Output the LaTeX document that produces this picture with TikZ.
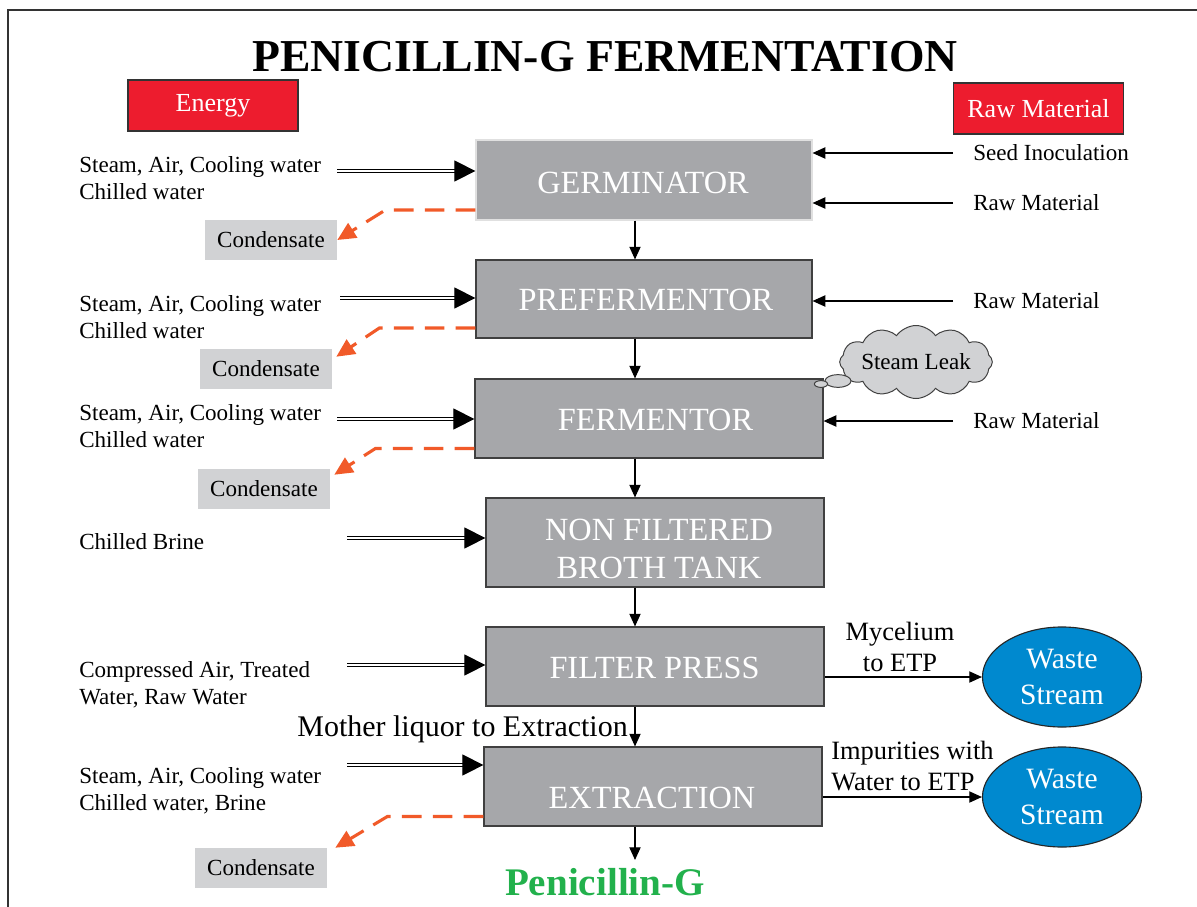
\documentclass[tikz,border=0pt]{standalone}
\usepackage{fontspec}
\setmainfont{Liberation Serif}
\usetikzlibrary{arrows.meta,shapes.geometric,shapes.symbols,shadows,calc}
\definecolor{procgray}{HTML}{A6A7AA}
\definecolor{condgray}{HTML}{D1D2D4}
\definecolor{energyred}{HTML}{ED1C2E}
\definecolor{leakorange}{HTML}{F15A29}
\definecolor{wasteblue}{HTML}{0089CF}
\definecolor{pengreen}{HTML}{22B14C}

\begin{document}
\begin{tikzpicture}[x=0.025cm, y=-0.025cm,
	proc/.style={rectangle, fill=procgray, draw=black!75, line width=0.8pt, inner sep=0pt,
		general shadow={fill=black!80, shadow xshift=1pt, shadow yshift=-1pt}},
	proctxt/.style={text=white, align=center, inner sep=0pt, font=\fontsize{23}{27}\selectfont},
	redbox/.style={rectangle, fill=energyred, draw=black!80, line width=0.8pt, text=white,
		font=\fontsize{18.5}{22}\selectfont, minimum width=4.25cm, minimum height=1.275cm},
	condbox/.style={rectangle, fill=condgray, font=\fontsize{16.4}{19}\selectfont,
		minimum width=3.3cm, minimum height=1cm},
	side/.style={anchor=west, align=left, inner sep=0pt, font=\fontsize{16.4}{19.3}\selectfont},
	rawlbl/.style={anchor=west, inner xsep=0.5cm, inner ysep=0pt, font=\fontsize{16.4}{19.3}\selectfont},
	waste/.style={ellipse, fill=wasteblue, draw=black!85, line width=0.8pt, text=white, align=center,
		inner sep=0pt, minimum width=3.975cm, minimum height=2.5cm, font=\fontsize{21}{25.6}\selectfont},
	outlbl/.style={align=center, inner sep=0pt, font=\fontsize{18.8}{21.5}\selectfont},
	puff/.style={ellipse, fill=condgray, draw=black!75, line width=0.7pt, inner sep=0pt},
	flow/.style={-{Triangle[length=9pt,width=8pt]}, line width=0.8pt},
	feed/.style={-{Triangle[length=15pt,width=15pt]}, double, double distance=1.8pt, line width=0.7pt},
	drain/.style={-{Triangle[length=13pt,width=12pt]}, leakorange, line width=2.2pt,
		dash pattern=on 14pt off 8pt}]

	\useasboundingbox (0,0) rectangle (1197,907);
	\draw[line width=1.4pt, black!80] (8,907) -- (8,10) -- (1197,10);

	\node[font=\fontsize{32.5}{38}\selectfont\bfseries] (title) at (605,57) {PENICILLIN-G FERMENTATION};
	\node[redbox] (energy) at (213,105.5) {Energy};
	\node[redbox] (raw) at (1038.5,108.5) {Raw Material};

	\node[proc, draw=black!12, minimum width=8.4cm, minimum height=2cm] (germ) at (644,180) {};
	\node[proc, minimum width=8.4cm, minimum height=1.95cm] (pref) at (644,299) {};
	\node[proc, minimum width=8.7cm, minimum height=1.975cm] (ferm) at (649,418.5) {};
	\node[proc, minimum width=8.45cm, minimum height=2.225cm] (nfbt) at (655,542.5) {};
	\node[proc, minimum width=8.45cm, minimum height=1.975cm] (filt) at (655,666.5) {};
	\node[proc, minimum width=8.45cm, minimum height=1.975cm] (extr) at (653,786.5) {};
	\node[proctxt] (germtxt) at (643,183) {GERMINATOR};
	\node[proctxt] (preftxt) at (646,300) {PREFERMENTOR};
	\node[proctxt] (fermtxt) at (655.5,420) {FERMENTOR};
	\node[proctxt, font=\fontsize{23}{27.5}\selectfont] (nfbttxt) at (659,549) {NON FILTERED\\BROTH TANK};
	\node[proctxt] (filttxt) at (654.5,668) {FILTER PRESS};
	\node[proctxt] (extrtxt) at (652,798) {EXTRACTION};
	\node[font=\fontsize{27.8}{32}\selectfont\bfseries, text=pengreen, inner sep=0pt] (pen) at (605,882) {Penicillin-G};

	\coordinate (axis) at (635,0);
	\draw[flow] (germ.south -| axis) -- (pref.north -| axis);
	\draw[flow] (pref.south -| axis) -- (ferm.north -| axis);
	\draw[flow] (ferm.south -| axis) -- (nfbt.north -| axis);
	\draw[flow] (nfbt.south -| axis) -- (filt.north -| axis);
	\draw[flow] (filt.south -| axis) -- (extr.north -| axis);
	\draw[flow, shorten >=0.2cm] (extr.south -| axis) -- (pen.north -| axis);
	\node[anchor=east, inner sep=0pt, font=\fontsize{21.3}{25}\selectfont] (liquor) at (628,729) {Mother liquor to Extraction};

	\node[side] (lbl1) at (79,178.5) {Steam, Air, Cooling water\\Chilled water};
	\node[side] (lbl2) at (79,317.5) {Steam, Air, Cooling water\\Chilled water};
	\node[side] (lbl3) at (79,426.5) {Steam, Air, Cooling water\\Chilled water};
	\node[side] (lbl4) at (79,542) {Chilled Brine};
	\node[side] (lbl5) at (79,684.5) {Compressed Air, Treated\\Water, Raw Water};
	\node[side] (lbl6) at (79,790.5) {Steam, Air, Cooling water\\Chilled water, Brine};

	\coordinate (e1) at (337,171);
	\coordinate (e2) at (340,298);
	\coordinate (e3) at (337,419);
	\coordinate (e4) at (347,538);
	\coordinate (e5) at (347,665);
	\coordinate (e6) at (347,765);
	\draw[feed] (e1) -- (e1 -| germ.west);
	\draw[feed] (e2) -- (e2 -| pref.west);
	\draw[feed] (e3) -- (e3 -| ferm.west);
	\draw[feed] (e4) -- (e4 -| nfbt.west);
	\draw[feed] (e5) -- (e5 -| filt.west);
	\draw[feed] (e6) -- (e6 -| extr.west);

	\node[condbox] (cond1) at (271,240) {Condensate};
	\node[condbox] (cond2) at (266,369) {Condensate};
	\node[condbox] (cond3) at (264,489) {Condensate};
	\node[condbox] (cond4) at (261,868) {Condensate};
	\draw[drain] ($(germ.west)+(0,30)$) -- ++(-90,0) -- (cond1.east);
	\draw[drain] ($(pref.west)+(0,29)$) -- ++(-96,0) -- ($(cond2.north east)+(4,8)$);
	\draw[drain] ($(ferm.west)+(0,30)$) -- ++(-99,0) -- ($(cond3.north east)+(4,6)$);
	\draw[drain] ($(extr.west)+(0,30)$) -- ++(-96,0) -- ($(cond4.north east)+(8,0)$);

	\node[rawlbl] (seed) at (953,153) {Seed Inoculation};
	\node[rawlbl] (raw1) at (953,203) {Raw Material};
	\node[rawlbl] (raw2) at (953,301) {Raw Material};
	\node[rawlbl] (raw3) at (953,421) {Raw Material};
	\draw[flow] (seed.west) -- (seed.west -| germ.east);
	\draw[flow] (raw1.west) -- (raw1.west -| germ.east);
	\draw[flow] (raw2.west) -- (raw2.west -| pref.east);
	\draw[flow] (raw3.west) -- (raw3.west -| ferm.east);

	\node[cloud, cloud puffs=12, cloud puff arc=110, cloud ignores aspect, fill=condgray, draw=black!75,
		line width=0.7pt, minimum width=3.675cm, minimum height=1.825cm, inner sep=0pt,
		font=\fontsize{16.4}{19}\selectfont] (leak) at (916,362) {Steam Leak};
	\node[puff, minimum width=0.65cm, minimum height=0.32cm] (puff1) at (838,381) {};
	\node[puff, minimum width=0.33cm, minimum height=0.17cm] (puff2) at (821,384) {};

	\node[waste] (ws1) at (1062,677) {Waste\\Stream};
	\node[waste] (ws2) at (1062,797) {Waste\\Stream};
	\draw[flow] (ws1.west -| filt.east) -- (ws1.west);
	\draw[flow] (ws2.west -| extr.east) -- (ws2.west);
	\node[outlbl] (myc) at (900,647) {Mycelium\\to ETP};
	\node[outlbl, anchor=west, align=left, font=\fontsize{18.8}{22.5}\selectfont] (imp) at (831,766) {Impurities with\\Water to ETP};
\end{tikzpicture}
\end{document}
